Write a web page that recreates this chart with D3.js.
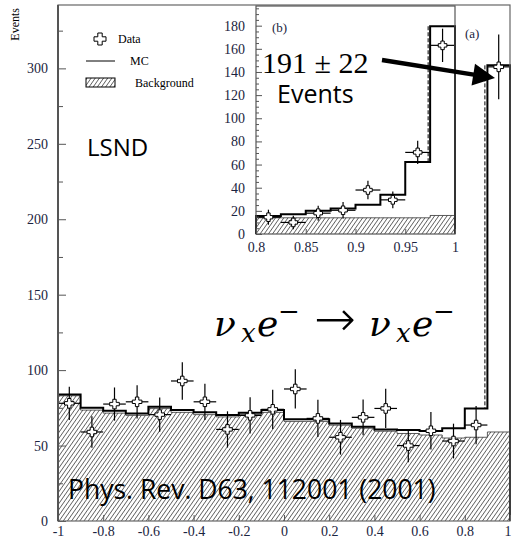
<!DOCTYPE html>
<html>
<head>
<meta charset="UTF-8">
<script src="https://d3js.org/d3.v7.min.js"></script>
<style>
  body { margin: 0; background: #fff; }
  .tick text { font-family: "Liberation Serif", serif; font-size: 14px; fill: #1b2440; }
  .tick line { stroke: #555; }
</style>
</head>
<body>
<svg width="512" height="542"></svg>
<script>
// main histogram (cos theta), bins of 0.1
const mainCenters = [-0.95, -0.85, -0.75, -0.65, -0.55, -0.45, -0.35, -0.25, -0.15, -0.05,
                      0.05, 0.15, 0.25, 0.35, 0.45, 0.55, 0.65, 0.75, 0.85, 0.95];
const mainData = [78, 59, 77.5, 79, 70.5, 92.8, 79, 60.7, 70, 74, 87.5, 68, 55.5, 68.7, 74.6, 50, 59.8, 53, 63.6, 301];
const mainErr  = [11, 10.5, 11, 11, 11.4, 12.4, 12, 12, 12, 13, 13, 12.4, 11.5, 11.8, 13, 11, 12.4, 11.5, 12.7, 21.5];
const mainMC   = [83.9, 75, 73, 71.3, 75.7, 73.5, 72, 70.2, 71.7, 73.5, 67.5, 67.5, 64.7, 62.5, 60.7, 60.3, 59.6, 61.4, 74.6, 302];
const mainBg   = [83, 73.5, 71.5, 70, 74.5, 72, 70.5, 69, 70.5, 72, 66, 66, 63.5, 61.5, 59.5, 58, 57, 55, 55.5, 59];
const mainYTicks = [0, 50, 100, 150, 200, 250, 300];
const mainXTicks = [-1, -0.8, -0.6, -0.4, -0.2, 0, 0.2, 0.4, 0.6, 0.8, 1];

// inset (b), bins of 0.025
const insetCenters = [0.8125, 0.8375, 0.8625, 0.8875, 0.9125, 0.9375, 0.9625, 0.9875];
const insetData = [14.5, 10, 18, 20.5, 38, 29.5, 70.5, 163];
const insetErr  = [6.5, 5.8, 6.5, 7.2, 8, 7.2, 10, 14.4];
const insetMC   = [15.5, 17, 20, 22, 25.3, 34, 62.2, 179.5];
const insetBg   = [14, 14, 14, 14, 14, 14, 14, 16];
const insetYTicks = [0, 20, 40, 60, 80, 100, 120, 140, 160, 180];
const insetXTicks = [0.8, 0.85, 0.9, 0.95, 1];

const svg = d3.select("svg");
const serif = "Liberation Serif, serif";
const sans = "Open Sans, sans-serif";

// hatching
const defs = svg.append("defs");
defs.append("pattern")
  .attr("id", "hatch")
  .attr("patternUnits", "userSpaceOnUse")
  .attr("width", 3.4).attr("height", 3.4)
  .attr("patternTransform", "rotate(35)")
  .append("line")
  .attr("x1", 0).attr("y1", 0).attr("x2", 0).attr("y2", 3.4)
  .attr("stroke", "#1e1e1e").attr("stroke-width", 1.2);

function crossPath(s, w) {
  return `M${-w},${-s}L${w},${-s}L${w},${-w}L${s},${-w}L${s},${w}L${w},${w}L${w},${s}L${-w},${s}L${-w},${w}L${-s},${w}L${-s},${-w}L${-w},${-w}Z`;
}

function steps(centers, vals, bw) {
  const pts = [[centers[0] - bw / 2, 0]];
  centers.forEach((c, i) => {
    pts.push([c - bw / 2, vals[i]]);
    pts.push([c + bw / 2, vals[i]]);
  });
  pts.push([centers[centers.length - 1] + bw / 2, 0]);
  return pts;
}

function drawHist(g, x, y, centers, data, err, mc, bg, bw, ms) {
  const line = d3.line().x(d => x(d[0])).y(d => y(d[1]));
  g.append("path")
    .datum(steps(centers, bg, bw))
    .attr("d", line)
    .attr("fill", "url(#hatch)")
    .attr("stroke", "#333").attr("stroke-width", 0.8);
  g.append("path")
    .datum(steps(centers, mc, bw))
    .attr("d", line)
    .attr("fill", "none")
    .attr("stroke", "#000").attr("stroke-width", 2);

  const pts = g.selectAll("g.pt")
    .data(centers.map((c, i) => ({ c, v: data[i], e: err[i] })))
    .join("g").attr("class", "pt");
  pts.append("line")
    .attr("x1", d => x(d.c)).attr("x2", d => x(d.c))
    .attr("y1", d => y(d.v - d.e)).attr("y2", d => y(d.v + d.e))
    .attr("stroke", "#000").attr("stroke-width", 1.2);
  pts.append("line")
    .attr("x1", d => x(d.c - bw / 2)).attr("x2", d => x(d.c + bw / 2))
    .attr("y1", d => y(d.v)).attr("y2", d => y(d.v))
    .attr("stroke", "#000").attr("stroke-width", 1.2);
  pts.append("path")
    .attr("d", crossPath(ms, 1.7))
    .attr("transform", d => `translate(${x(d.c)},${y(d.v)})`)
    .attr("fill", "#fff").attr("stroke", "#000").attr("stroke-width", 1);
}

// ---- main plot (a)
const x = d3.scaleLinear().domain([-1, 1]).range([58, 510]);
const y = d3.scaleLinear().domain([0, 342]).range([521, 5]);
const main = svg.append("g");

drawHist(main, x, y, mainCenters, mainData, mainErr, mainMC, mainBg, 0.1, 4.8);

// dashed edge of the last bin
main.append("line")
  .attr("x1", x(0.9) - 2.5).attr("x2", x(0.9) - 2.5)
  .attr("y1", y(mainMC[19])).attr("y2", y(mainMC[18]))
  .attr("stroke", "#000").attr("stroke-width", 1).attr("stroke-dasharray", "4,2");

main.append("g")
  .attr("transform", "translate(58,0)")
  .call(d3.axisLeft(y).tickValues(mainYTicks).tickSize(-8).tickPadding(10))
  .call(g => g.select(".domain").remove());
main.append("g")
  .attr("transform", "translate(58,0)")
  .call(d3.axisLeft(y).tickValues([25, 75, 125, 175, 225, 275, 325]).tickSize(-5).tickFormat(""))
  .call(g => g.select(".domain").remove());
main.append("g")
  .attr("transform", "translate(0,521)")
  .call(d3.axisBottom(x).tickValues(mainXTicks).tickSize(-6).tickPadding(5)
    .tickFormat(d => String(+d.toFixed(1))))
  .call(g => g.select(".domain").remove())
  .call(g => g.selectAll(".tick text").filter(d => d === 1).attr("dx", -2.5));

main.append("rect")
  .attr("x", 58).attr("y", 5).attr("width", 452).attr("height", 516)
  .attr("fill", "none").attr("stroke", "#666").attr("stroke-width", 1.2);
main.append("line")
  .attr("x1", 58).attr("x2", 58).attr("y1", 5).attr("y2", 521)
  .attr("stroke", "#555").attr("stroke-width", 2);

// y label
svg.append("text")
  .attr("transform", "translate(19,8) rotate(-90)")
  .attr("text-anchor", "end")
  .attr("font-family", serif).attr("font-size", 12)
  .text("Events");

// legend
const leg = svg.append("g");
leg.append("path").attr("d", crossPath(6, 2.2))
  .attr("transform", "translate(100,39)")
  .attr("fill", "#fff").attr("stroke", "#000").attr("stroke-width", 1);
leg.append("text").attr("x", 118).attr("y", 43)
  .attr("font-family", serif).attr("font-size", 12).text("Data");
leg.append("line").attr("x1", 86).attr("x2", 115).attr("y1", 61).attr("y2", 61)
  .attr("stroke", "#000").attr("stroke-width", 1);
leg.append("text").attr("x", 130).attr("y", 65)
  .attr("font-family", serif).attr("font-size", 12).text("MC");
leg.append("rect").attr("x", 86).attr("y", 78).attr("width", 29).attr("height", 9)
  .attr("fill", "url(#hatch)").attr("stroke", "#000").attr("stroke-width", 1);
leg.append("text").attr("x", 135).attr("y", 87)
  .attr("font-family", serif).attr("font-size", 12).text("Background");

svg.append("text").attr("x", 465).attr("y", 38)
  .attr("font-family", serif).attr("font-size", 13).attr("fill", "#1b2440").text("(a)");

// ---- inset (b)
const xi = d3.scaleLinear().domain([0.8, 1]).range([256, 455]);
const yi = d3.scaleLinear().domain([0, 197]).range([234, 6]);
const inset = svg.append("g");
inset.append("rect")
  .attr("x", 256).attr("y", 6).attr("width", 199).attr("height", 228)
  .attr("fill", "#fff");

drawHist(inset, xi, yi, insetCenters, insetData, insetErr, insetMC, insetBg, 0.025, 4.3);

inset.append("line")
  .attr("x1", xi(0.975) - 2).attr("x2", xi(0.975) - 2)
  .attr("y1", yi(insetMC[7])).attr("y2", yi(insetMC[6]))
  .attr("stroke", "#000").attr("stroke-width", 1).attr("stroke-dasharray", "4,2");

inset.append("g")
  .attr("transform", "translate(256,0)")
  .call(d3.axisLeft(yi).tickValues(insetYTicks).tickSize(-6).tickPadding(11))
  .call(g => g.select(".domain").remove());
inset.append("g")
  .attr("transform", "translate(256,0)")
  .call(d3.axisLeft(yi).tickValues(d3.range(5, 196, 5).filter(v => v % 20 !== 0)).tickSize(-3).tickFormat(""))
  .call(g => g.select(".domain").remove());
inset.append("g")
  .attr("transform", "translate(0,234)")
  .call(d3.axisBottom(xi).tickValues(insetXTicks).tickSize(-5).tickPadding(8)
    .tickFormat(d => String(+d.toFixed(2))))
  .call(g => g.select(".domain").remove());

inset.append("rect")
  .attr("x", 256).attr("y", 6).attr("width", 199).attr("height", 228)
  .attr("fill", "none").attr("stroke", "#555").attr("stroke-width", 1.2);

svg.append("text").attr("x", 272).attr("y", 32)
  .attr("font-family", serif).attr("font-size", 13).attr("fill", "#1b2440").text("(b)");

// ---- annotations
svg.append("text").attr("x", 87).attr("y", 156)
  .attr("font-family", sans).attr("font-size", 24).text("LSND");

svg.append("text").attr("x", 262).attr("y", 73)
  .attr("font-family", serif).attr("font-size", 30).text("191 ± 22");
svg.append("text").attr("x", 277).attr("y", 103)
  .attr("font-family", sans).attr("font-size", 25).text("Events");

// arrow
const a0 = [382, 60], a1 = [495, 78];
const ang = Math.atan2(a1[1] - a0[1], a1[0] - a0[0]);
const hl = 22, hw = 11;
const bx = a1[0] - hl * Math.cos(ang), by = a1[1] - hl * Math.sin(ang);
svg.append("line")
  .attr("x1", a0[0]).attr("y1", a0[1]).attr("x2", bx + 2 * Math.cos(ang)).attr("y2", by + 2 * Math.sin(ang))
  .attr("stroke", "#000").attr("stroke-width", 4.5);
svg.append("path")
  .attr("d", `M${a1[0]},${a1[1]}L${bx - hw * Math.sin(ang)},${by + hw * Math.cos(ang)}L${bx + hw * Math.sin(ang)},${by - hw * Math.cos(ang)}Z`)
  .attr("fill", "#000");

// reaction
const rx = svg.append("text").attr("y", 336)
  .attr("font-family", "DejaVu Serif, serif").attr("font-size", 36).attr("font-style", "italic")
  .attr("font-weight", "normal");
rx.append("tspan").attr("x", 214).text("ν");
rx.append("tspan").attr("x", 241).attr("dy", 6).attr("font-size", 26).text("x");
rx.append("tspan").attr("x", 257).attr("dy", -6).text("e");
rx.append("tspan").attr("x", 278).attr("dy", -16).attr("font-size", 26).attr("font-style", "normal").text("−");
rx.append("tspan").attr("x", 314).attr("dy", 16).attr("font-size", 50).attr("font-style", "normal")
  .attr("font-family", "DejaVu Sans, sans-serif").attr("font-weight", 200).text("→");
rx.append("tspan").attr("x", 369).text("ν");
rx.append("tspan").attr("x", 396).attr("dy", 6).attr("font-size", 26).text("x");
rx.append("tspan").attr("x", 412).attr("dy", -6).text("e");
rx.append("tspan").attr("x", 433).attr("dy", -16).attr("font-size", 26).attr("font-style", "normal").text("−");

svg.append("text").attr("x", 68).attr("y", 499)
  .attr("font-family", sans).attr("font-size", 26.5).text("Phys. Rev. D63, 112001 (2001)");
</script>
</body>
</html>
